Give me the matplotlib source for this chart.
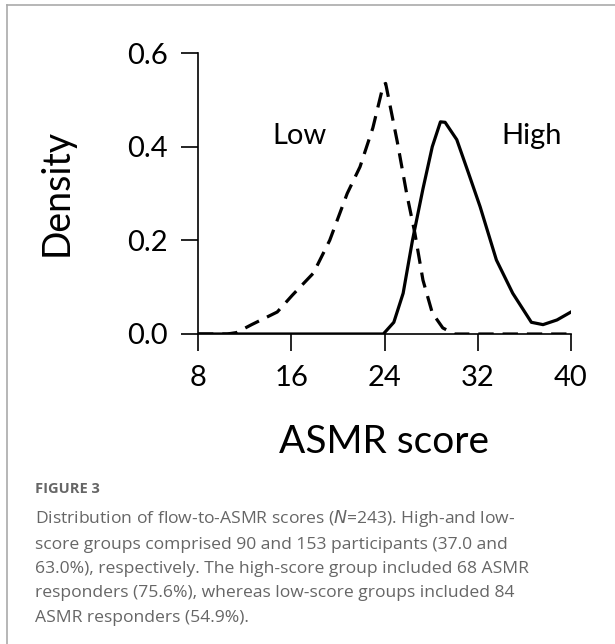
import matplotlib.pyplot as plt
from matplotlib.lines import Line2D

# density curves
low_x = [8, 10.5, 11.3, 12.6, 14.8, 16.1, 17.9, 19.3, 20.8, 21.9, 23.0, 23.9, 24.1,
         25.1, 25.9, 26.6, 27.3, 28.1, 29.0, 30.0, 40]
low_y = [0, 0, 0.003, 0.02, 0.047, 0.083, 0.13, 0.20, 0.30, 0.357, 0.44, 0.532, 0.535,
         0.41, 0.30, 0.216, 0.115, 0.045, 0.013, 0.0, 0]

high_x = [8, 23.9, 24.8, 25.6, 26.4, 27.3, 28.1, 28.8, 29.2, 30.2, 31.2, 32.2, 33.6,
          35.0, 36.6, 37.6, 38.8, 40.0]
high_y = [0, 0, 0.025, 0.087, 0.2, 0.31, 0.40, 0.453, 0.452, 0.415, 0.344, 0.272, 0.158,
          0.087, 0.025, 0.02, 0.03, 0.047]

x_ticks = [8, 16, 24, 32, 40]
y_ticks = [0.0, 0.2, 0.4, 0.6]

caption = ("Distribution of flow-to-ASMR scores ($\\it{N}$=243). High-and low-\n"
           "score groups comprised 90 and 153 participants (37.0 and\n"
           "63.0%), respectively. The high-score group included 68 ASMR\n"
           "responders (75.6%), whereas low-score groups included 84\n"
           "ASMR responders (54.9%).")

W, H = 615, 644
fig = plt.figure(figsize=(W / 100, H / 100), dpi=100)
ax = fig.add_axes([198 / W, (H - 334) / H, (571 - 198) / W, (334 - 53) / H])

ax.plot(low_x, low_y, color="black", lw=2.3, ls=(0, (4.8, 2.8)))
ax.plot(high_x, high_y, color="black", lw=2.3)

ax.set_xlim(8, 40)
ax.set_ylim(0, 0.6)
ax.set_xticks(x_ticks)
ax.set_xticklabels([str(t) for t in x_ticks])
ax.set_yticks(y_ticks)
ax.set_yticklabels(["%.1f" % t for t in y_ticks])
for s in ["top", "right"]:
    ax.spines[s].set_visible(False)
for s in ["left", "bottom"]:
    ax.spines[s].set_linewidth(1.2)
ax.tick_params(direction="out", length=12, width=1.2, labelsize=21, pad=10)
for lab in ax.get_xticklabels() + ax.get_yticklabels():
    lab.set_family("Lato")

ax.text(16.7, 0.423, "Low", fontsize=21, family="Lato", ha="center", va="center")
ax.text(36.6, 0.423, "High", fontsize=21, family="Lato", ha="center", va="center")

fig.text(57 / W, 1 - 192 / H, "Density", rotation=90, fontsize=27, family="Lato",
         ha="center", va="center")
fig.text(384 / W, 1 - 442 / H, "ASMR score", fontsize=28, family="Lato",
         ha="center", va="center")

fig.text(35 / W, 1 - 489 / H, "FIGURE 3", fontsize=10.5, weight="bold",
         color="#666666", family="Open Sans", va="center")
fig.text(35 / W, 1 - 508 / H, caption, fontsize=12.6, color="#666666",
         family="Open Sans", va="top", linespacing=1.68)

# card border
fig.add_artist(Line2D([6.5 / W, 1], [1 - 4.5 / H, 1 - 4.5 / H], color="#aaaaaa", lw=1.2))
fig.add_artist(Line2D([6.5 / W, 6.5 / W], [0, 1 - 4.5 / H], color="#aaaaaa", lw=1.2))

fig.savefig("out.png", dpi=100)
